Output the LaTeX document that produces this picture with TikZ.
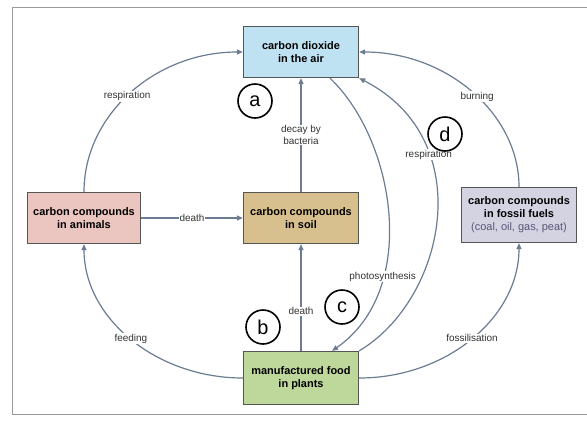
\documentclass[tikz,border=0pt]{standalone}
\usepackage{fontspec}
\setmainfont{Liberation Sans}
\usetikzlibrary{arrows.meta, positioning}
\definecolor{airblue}{HTML}{BFE2F2}
\definecolor{animalpink}{HTML}{EBC6C0}
\definecolor{soiltan}{HTML}{D8C08E}
\definecolor{fossilgray}{HTML}{D3D3E2}
\definecolor{plantgreen}{HTML}{BED79A}
\definecolor{boxedge}{HTML}{555555}
\definecolor{flowgray}{HTML}{6B7C93}
\definecolor{labelgray}{HTML}{333333}
\definecolor{fossiltext}{HTML}{5A5478}
\definecolor{framegray}{HTML}{9A9A9A}

\begin{document}
\begin{tikzpicture}[
    x=1bp, y=-1bp,
    box/.style={rectangle, draw=boxedge, line width=1.3bp, minimum width=115bp, minimum height=51bp, align=center, inner sep=1bp, font=\fontsize{11}{13}\selectfont\bfseries},
    arrow/.style={-{Triangle[length=6bp,width=5bp]}, line width=1.2bp, draw=flowgray},
    lbl/.style={fill=white, inner sep=1bp, text=labelgray, align=center, font=\fontsize{10}{11.5}\selectfont},
    tag/.style={circle, draw=black, line width=1.6bp, fill=white, minimum size=34bp, inner sep=0pt, font=\fontsize{20}{20}\selectfont}
]
\useasboundingbox (0,0) rectangle (587,421);
\fill[white] (0,0) rectangle (587,421);
\draw[framegray, line width=1bp] (587,7) -- (12,7) -- (12,414) -- (587,414);

\node[box, fill=airblue] (air) at (301,52) {carbon dioxide\\in the air};
\node[box, fill=animalpink, minimum width=113bp] (animals) at (84,218) {carbon compounds\\in animals};
\node[box, fill=soiltan] (soil) at (301,218) {carbon compounds\\in soil};
\node[box, fill=fossilgray, minimum height=55bp] (fossil) at (519,215) {carbon compounds\\in fossil fuels\\{\mdseries\color{fossiltext}(coal, oil, gas, peat)}};
\node[box, fill=plantgreen, minimum height=53bp] (plants) at (301,378) {manufactured food\\in plants};

\draw[arrow] (animals.north) .. controls (84,115) and (155,52) .. (air.west) node[lbl, pos=0.48] {respiration};
\draw[arrow] (fossil.north) .. controls (519,114) and (447,52) .. (air.east) node[lbl, pos=0.47] {burning};
\draw[arrow] (soil) -- node[lbl] {decay by\\bacteria} (air);
\draw[arrow] (animals) -- node[lbl] {death} (soil);
\draw[arrow] (plants) -- node[lbl, pos=0.37] {death} (soil);
\draw[arrow] ([xshift=29bp]air.south) .. controls (395,140) and (420,290) .. ([xshift=31bp]plants.north) node[lbl, pos=0.7] {photosynthesis};
\draw[arrow] (plants.north east) .. controls (445,300) and (480,140) .. (air.south east) node[lbl, pos=0.7] {respiration};
\draw[arrow] (plants.west) .. controls (156,378) and (84,318) .. (animals.south) node[lbl, pos=0.5] {feeding};
\draw[arrow] (plants.east) .. controls (447,378) and (519,317) .. (fossil.south) node[lbl, pos=0.5] {fossilisation};

\node[tag] (a) at (255,101) {a};
\node[tag] (b) at (263,327) {b};
\node[tag] (c) at (342,307) {c};
\node[tag] (d) at (445,134) {d};
\end{tikzpicture}
\end{document}
